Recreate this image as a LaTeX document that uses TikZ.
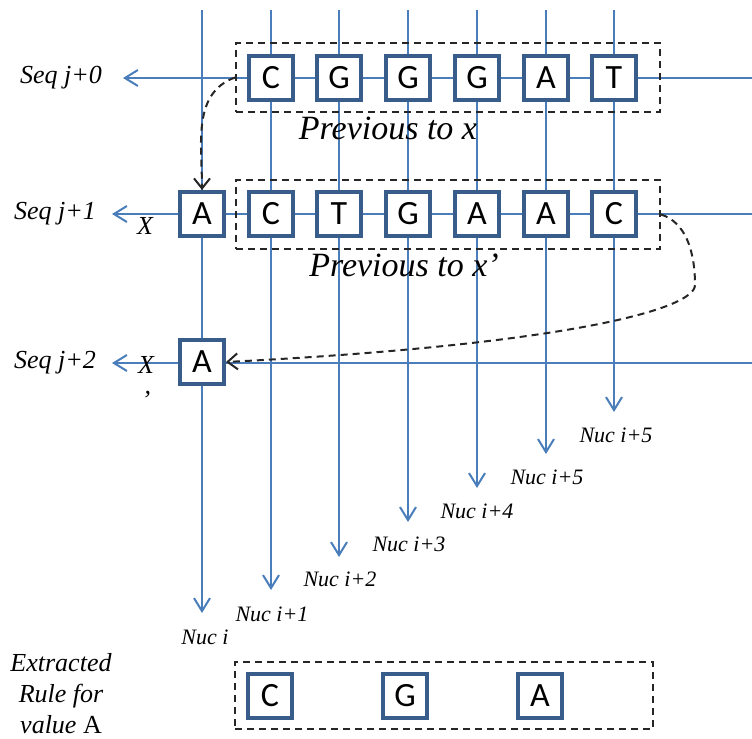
\documentclass[tikz,border=0pt]{standalone}
\usepackage{fontspec}
\setmainfont{Liberation Serif}
\newfontfamily\nucfont{Carlito}
\usetikzlibrary{arrows.meta}

\definecolor{seqblue}{RGB}{74,126,187}
\definecolor{boxblue}{RGB}{56,93,138}

\tikzset{
    nuc/.style={draw=boxblue, line width=2pt, fill=white, minimum size=22pt, inner sep=0pt,
        font=\nucfont\fontsize{17}{17}\selectfont},
    rulenuc/.style={nuc, line width=1.6pt},
    seqline/.style={seqblue, line width=1pt, -{Straight Barb[length=6.5pt,width=8pt]}},
    group/.style={draw=black!85, dash pattern=on 3.5pt off 2.5pt, line width=1pt,
        minimum width=212pt, minimum height=34.5pt, inner sep=0pt},
    hop/.style={black!85, dash pattern=on 3.5pt off 2.5pt, line width=1pt,
        -{Straight Barb[length=5pt,width=8pt]}},
    lbl/.style={font=\itshape\fontsize{13}{15.5}\selectfont},
    nuclbl/.style={font=\itshape\fontsize{11}{13}\selectfont, anchor=base},
    prevlbl/.style={font=\itshape\fontsize{17}{19}\selectfont, anchor=base}
}

\begin{document}
\begin{tikzpicture}[x=0.5pt, y=-0.5pt]
    \useasboundingbox (0,0) rectangle (752,739);

    % free ends of the sequence lines
    \coordinate (R0) at (752, 78);  \coordinate (L0) at (123, 78);
    \coordinate (R1) at (752, 214); \coordinate (L1) at (112, 214);
    \coordinate (R2) at (752, 363); \coordinate (L2) at (112, 363);

    % free ends of the nucleotide columns
    \foreach \i/\x/\e in {0/202/613, 1/271/590, 2/339/557, 3/408/522, 4/477/488, 5/546/454, 6/614/412} {
        \coordinate (T\i) at (\x, 10);
        \coordinate (E\i) at (\x, \e);
    }

    \draw[seqline] (R0) -- (L0);
    \draw[seqline] (R1) -- (L1);
    \draw[seqline] (R2) -- (L2);
    \foreach \i in {0,...,6} {
        \draw[seqline] (T\i) -- (E\i);
    }

    % dashed groups
    \node[group] (PREV0) at (448, 77.5) {};
    \node[group] (PREV1) at (448, 214.5) {};
    \node[group, minimum width=209pt, minimum height=33.5pt] (RULE) at (444, 695.5) {};

    % row j+0
    \node[nuc] (C01) at (271, 78) {C};
    \node[nuc] (C02) at (339, 78) {G};
    \node[nuc] (C03) at (408, 78) {G};
    \node[nuc] (C04) at (477, 78) {G};
    \node[nuc] (C05) at (546, 78) {A};
    \node[nuc] (C06) at (614, 78) {T};

    % row j+1
    \node[nuc] (C10) at (202, 214) {A};
    \node[nuc] (C11) at (271, 214) {C};
    \node[nuc] (C12) at (339, 214) {T};
    \node[nuc] (C13) at (408, 214) {G};
    \node[nuc] (C14) at (477, 214) {A};
    \node[nuc] (C15) at (546, 214) {A};
    \node[nuc] (C16) at (614, 214) {C};

    % row j+2
    \node[nuc] (C20) at (202, 362) {A};

    % extracted rule
    \node[rulenuc] (RC) at (270, 696) {C};
    \node[rulenuc] (RG) at (405, 696) {G};
    \node[rulenuc] (RA) at (540, 696) {A};

    % labels
    \node[lbl] (SEQ0) at (61, 78) {Seq j+0};
    \node[lbl] (SEQ1) at (55, 214) {Seq j+1};
    \node[lbl] (SEQ2) at (55, 363) {Seq j+2};
    \node[lbl] (X) at (145, 226) {X};
    \node[lbl, align=center] (XP) at (146, 382) {X\\[2pt]’};
    \node[prevlbl] (PX) at (388, 140) {Previous to x};
    \node[prevlbl] (PXP) at (404, 277) {Previous to x’};
    \node[lbl, align=center] (EXT) at (61, 694) {Extracted\\Rule for\\value \textup{A}};

    \node[nuclbl] (N0) at (205, 645) {Nuc i};
    \node[nuclbl] (N1) at (272, 622) {Nuc i+1};
    \node[nuclbl] (N2) at (340, 587) {Nuc i+2};
    \node[nuclbl] (N3) at (409, 552) {Nuc i+3};
    \node[nuclbl] (N4) at (477, 518) {Nuc i+4};
    \node[nuclbl] (N5) at (547, 484) {Nuc i+5};
    \node[nuclbl] (N6) at (616, 443) {Nuc i+5};

    % dependencies
    \coordinate (BEND) at (695, 285);
    \draw[hop] (PREV0.west) to[out=200, in=90] (C10.north);
    \draw[hop] (PREV1.east) .. controls (685, 222) and (695, 250) .. (BEND)
        .. controls (695, 310) and (560, 345) .. (C20.east);

\end{tikzpicture}
\end{document}
